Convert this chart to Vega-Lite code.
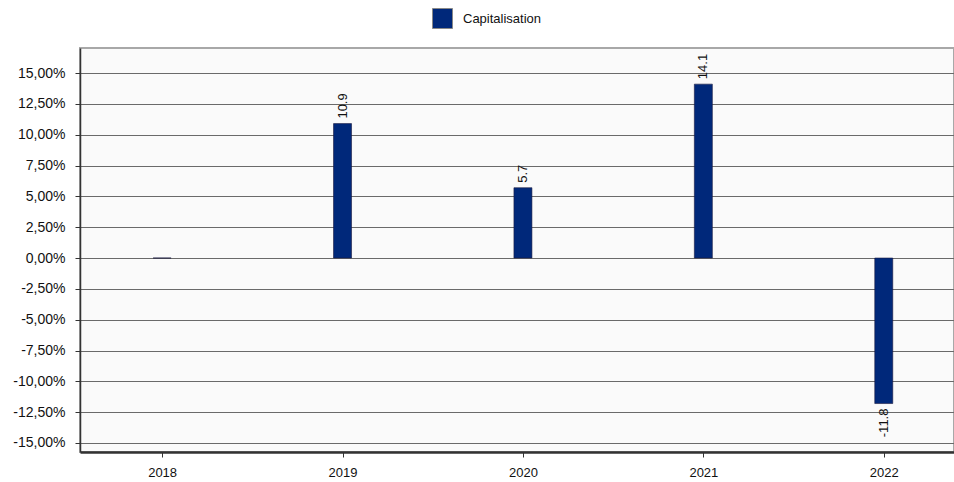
{
  "$schema": "https://vega.github.io/schema/vega-lite/v6.json",
  "width": 874,
  "height": 404,
  "autosize": {"type": "none"},
  "padding": {"left": 80, "top": 48, "right": 0, "bottom": 30},
  "background": "#ffffff",
  "config": {
    "font": "Liberation Sans",
    "locale": {
      "number": {"decimal": ".", "thousands": ",", "grouping": [3], "currency": ["$", ""], "minus": "-"}
    },
    "view": {"fill": "#fafafa", "stroke": "#a8a8a8", "strokeWidth": 2}
  },
  "data": {
    "values": [
      {"year": 2018, "value": 0.0, "series": "Capitalisation"},
      {"year": 2019, "value": 10.9, "series": "Capitalisation"},
      {"year": 2020, "value": 5.7, "series": "Capitalisation"},
      {"year": 2021, "value": 14.1, "series": "Capitalisation"},
      {"year": 2022, "value": -11.8, "series": "Capitalisation"}
    ]
  },
  "encoding": {
    "x": {
      "field": "year",
      "type": "quantitative",
      "scale": {"domain": [2017.5726, 2022.3616], "nice": false, "zero": false},
      "axis": {
        "title": null,
        "values": [2018, 2019, 2020, 2021, 2022],
        "format": "d",
        "grid": false,
        "domainColor": "#333333",
        "domainWidth": 2.5,
        "tickColor": "#333333",
        "tickSize": 5,
        "labelFontSize": 13,
        "labelColor": "#111111",
        "labelPadding": 9,
        "labelFlush": false
      }
    },
    "y": {
      "field": "value",
      "type": "quantitative",
      "scale": {"domain": [-15.73, 17.03], "nice": false, "zero": false},
      "axis": {
        "title": null,
        "values": [-15, -12.5, -10, -7.5, -5, -2.5, 0, 2.5, 5, 7.5, 10, 12.5, 15],
        "labelExpr": "replace(format(datum.value, '.2f'), '.', ',') + '%'",
        "grid": true,
        "gridColor": "#6a6a6a",
        "gridWidth": 1,
        "domainColor": "#333333",
        "domainWidth": 1.5,
        "tickColor": "#333333",
        "tickSize": 5,
        "labelFontSize": 14,
        "labelColor": "#111111",
        "labelPadding": 10
      }
    }
  },
  "layer": [
    {
      "mark": {"type": "bar", "size": 18, "stroke": "#1a1a40", "strokeWidth": 0.6},
      "encoding": {
        "y2": {"datum": 0},
        "color": {
          "field": "series",
          "type": "nominal",
          "scale": {"range": ["#00287a"]},
          "legend": {
            "title": null,
            "orient": "none",
            "legendX": 352,
            "legendY": -40,
            "symbolType": "square",
            "symbolSize": 400,
            "symbolStrokeColor": "#888888",
            "symbolStrokeWidth": 1,
            "labelFontSize": 13,
            "labelColor": "#111111",
            "labelOffset": 10
          }
        }
      }
    },
    {
      "transform": [{"filter": "datum.value > 0"}],
      "mark": {"type": "text", "angle": 270, "align": "left", "baseline": "middle", "dx": 5, "fontSize": 13, "color": "#111111"},
      "encoding": {"text": {"field": "value", "type": "quantitative", "format": ".1f"}}
    },
    {
      "transform": [{"filter": "datum.value < 0"}],
      "mark": {"type": "text", "angle": 270, "align": "right", "baseline": "middle", "dx": -5, "fontSize": 13, "color": "#111111"},
      "encoding": {"text": {"field": "value", "type": "quantitative", "format": ".1f"}}
    }
  ]
}
